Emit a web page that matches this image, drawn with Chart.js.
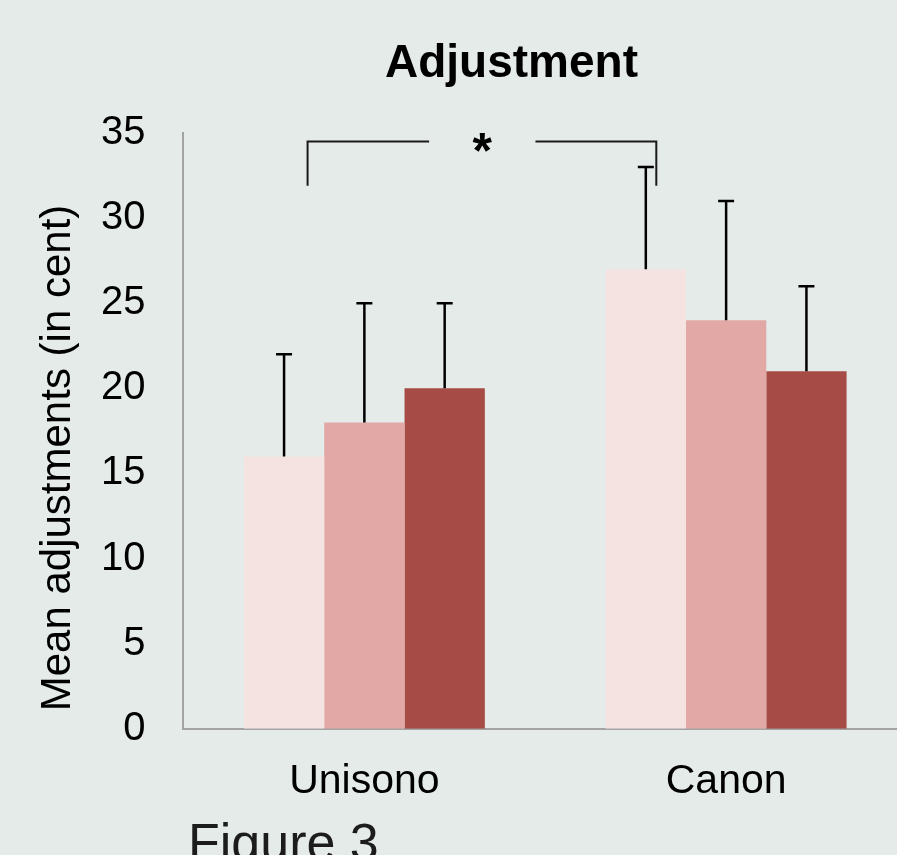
<!DOCTYPE html>
<html>
<head>
<meta charset="utf-8">
<title>Adjustment</title>
<script src="https://cdn.jsdelivr.net/npm/chart.js@4/dist/chart.umd.min.js"></script>
<style>
    html, body {
        margin: 0;
        padding: 0;
        overflow: hidden;
        background: #e4ebe9;
    }
    .wrap {
        position: relative;
        width: 912px;
        height: 855px;
    }
    .figure-label {
        position: absolute;
        left: 188px;
        top: 812px;
        font-family: "Liberation Sans", Arial, sans-serif;
        font-size: 52px;
        color: #1c1c1c;
        white-space: nowrap;
    }
</style>
</head>
<body>
<div class="wrap">
    <canvas id="adjustChart" width="912" height="855"></canvas>
    <div class="figure-label">Figure 3</div>
</div>
<script>
const categories = ["Unisono", "Canon"];
const seriesNames = ["Condition 1", "Condition 2", "Condition 3"];
const series1 = [16, 27];
const series2 = [18, 24];
const series3 = [20, 21];
// upper end of the error bars
const upper1 = [22, 33];
const upper2 = [25, 31];
const upper3 = [25, 26];
const yTicks = [0, 5, 10, 15, 20, 25, 30, 35];

const chartTitle = "Adjustment";
const yTitle = "Mean adjustments (in cent)";

// significance bracket, x in category units, y in data units
const bracketFrom = -0.157;
const bracketTo = 0.807;
const bracketTop = 34.5;
const bracketFoot = 31.9;
const starAt = 0.326;
const starGap = 0.147;

const colors = ["#f4e3e1", "#e2a8a6", "#a64b45"];
const font = "'Liberation Sans', Arial, sans-serif";

const errorBars = {
    id: "errorBars",
    afterDatasetsDraw(chart) {
        const { ctx, scales } = chart;
        const uppers = [upper1, upper2, upper3];
        ctx.save();
        ctx.strokeStyle = "#000";
        ctx.lineWidth = 2.5;
        chart.data.datasets.forEach((ds, di) => {
            const meta = chart.getDatasetMeta(di);
            meta.data.forEach((bar, i) => {
                const yTop = scales.y.getPixelForValue(uppers[di][i]);
                ctx.beginPath();
                ctx.moveTo(bar.x, bar.y);
                ctx.lineTo(bar.x, yTop);
                ctx.moveTo(bar.x - 8, yTop);
                ctx.lineTo(bar.x + 8, yTop);
                ctx.stroke();
            });
        });
        ctx.restore();
    },
};

const extras = {
    id: "extras",
    afterDraw(chart) {
        const { ctx, scales, chartArea } = chart;
        const x = scales.x;
        const y = scales.y;
        ctx.save();

        // bracket
        const x1 = x.getPixelForValue(bracketFrom);
        const x2 = x.getPixelForValue(bracketTo);
        const g1 = x.getPixelForValue(starAt - starGap);
        const g2 = x.getPixelForValue(starAt + starGap);
        const yt = y.getPixelForValue(bracketTop);
        const yf = y.getPixelForValue(bracketFoot);
        ctx.strokeStyle = "#1a1a1a";
        ctx.lineWidth = 2;
        ctx.beginPath();
        ctx.moveTo(x1, yf);
        ctx.lineTo(x1, yt);
        ctx.lineTo(g1, yt);
        ctx.moveTo(g2, yt);
        ctx.lineTo(x2, yt);
        ctx.lineTo(x2, yf);
        ctx.stroke();

        ctx.fillStyle = "#000";
        ctx.textAlign = "center";
        ctx.textBaseline = "middle";
        ctx.font = "bold 50px " + font;
        ctx.fillText("*", x.getPixelForValue(starAt), yt + 13);

        // title
        ctx.font = "bold 46px " + font;
        ctx.fillText(chartTitle, chartArea.left + 328, 64);

        // y axis title
        ctx.font = "42px " + font;
        ctx.translate(58, 458);
        ctx.rotate(-Math.PI / 2);
        ctx.fillText(yTitle, 0, 0);

        ctx.restore();
    },
};

new Chart(document.getElementById("adjustChart"), {
    type: "bar",
    data: {
        labels: categories,
        datasets: [series1, series2, series3].map((values, i) => ({
            label: seriesNames[i],
            data: values,
            backgroundColor: colors[i],
            borderWidth: 0,
            categoryPercentage: 0.666,
            barPercentage: 1,
        })),
    },
    options: {
        responsive: false,
        animation: false,
        devicePixelRatio: 1,
        layout: {
            padding: { left: 71, right: 5, top: 133, bottom: 29 },
        },
        plugins: {
            legend: { display: false },
            title: { display: false },
            tooltip: { enabled: false },
        },
        scales: {
            x: {
                grid: { display: false },
                border: { display: true, color: "#a3a3a3", width: 2 },
                ticks: {
                    color: "#000",
                    padding: 20,
                    font: { family: font, size: 41 },
                },
            },
            y: {
                min: 0,
                max: 35,
                afterBuildTicks(scale) {
                    scale.ticks = yTicks.map((v) => ({ value: v }));
                },
                grid: { display: false },
                border: { display: true, color: "#a3a3a3", width: 2 },
                ticks: {
                    color: "#000",
                    padding: 30,
                    font: { family: font, size: 40 },
                },
            },
        },
    },
    plugins: [errorBars, extras],
});
</script>
</body>
</html>
